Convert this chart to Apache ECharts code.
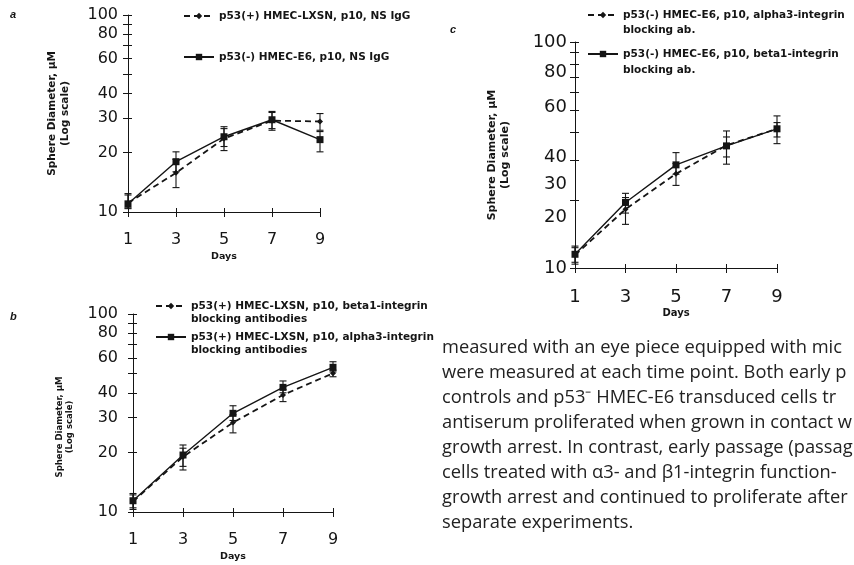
<!DOCTYPE html>
<html>
<head>
<meta charset="utf-8">
<title>Sphere diameter growth curves</title>
<script src="https://cdn.jsdelivr.net/npm/echarts@6/dist/echarts.min.js"></script>
<style>
  html, body { margin: 0; padding: 0; background: #fff; }
  #chart { width: 854px; height: 565px; }
</style>
</head>
<body>
<div id="chart"></div>
<script>
// Shared axes
const days = [1, 3, 5, 7, 9];
const dayTicks = [1, 3, 5, 7, 9];
const diamTicks = [10, 20, 30, 40, 50, 60, 70, 80, 90, 100];
const diamLabels = [10, 20, 30, 40, 60, 80, 100];
// Panel c prints its labels at these heights
const cLabelAt = [10, 16.7, 23.4, 30.8, 51.4, 73.6, 100];
const cLabelText = ['10', '20', '30', '40', '60', '80', '100'];

// Panel a: NS IgG controls
const aNameDashed = 'p53(+) HMEC-LXSN, p10, NS IgG';
const aNameSolid = 'p53(-) HMEC-E6, p10, NS IgG';
const aDashed = [11.1, 15.8, 23.6, 29.1, 28.8];
const aDashedLow = [10.5, 13.3, 20.5, 26.0, 26.0];
const aDashedHigh = [12.4, 18.5, 26.5, 32.0, 31.6];
const aSolid = [11.0, 18.0, 24.1, 29.4, 23.3];
const aSolidLow = [10.4, 16.0, 21.5, 26.5, 20.2];
const aSolidHigh = [12.2, 20.2, 27.1, 32.4, 25.6];

// Panel b: p53(+) cells with integrin blocking antibodies
const bNameDashed = 'p53(+) HMEC-LXSN, p10, beta1-integrin\nblocking antibodies';
const bNameSolid = 'p53(+) HMEC-LXSN, p10, alpha3-integrin\nblocking antibodies';
const bDashed = [11.3, 19.0, 28.3, 39.0, 50.2];
const bDashedLow = [10.3, 16.3, 25.1, 36.1, 48.2];
const bDashedHigh = [12.4, 21.0, 31.0, 41.5, 52.0];
const bSolid = [11.4, 19.4, 31.5, 42.6, 53.8];
const bSolidLow = [10.5, 17.0, 29.0, 40.0, 51.0];
const bSolidHigh = [12.2, 21.8, 34.4, 45.9, 57.4];

// Panel c: p53(-) cells with integrin blocking antibodies
const cNameDashed = 'p53(-) HMEC-E6, p10, alpha3-integrin\nblocking ab.';
const cNameSolid = 'p53(-) HMEC-E6, p10, beta1-integrin\nblocking ab.';
const cDashed = [11.4, 18.2, 26.1, 34.9, 41.3];
const cDashedLow = [10.4, 15.6, 23.2, 28.8, 35.5];
const cDashedHigh = [12.5, 20.5, 29.0, 38.0, 44.0];
const cSolid = [11.5, 19.5, 28.6, 34.7, 41.3];
const cSolidLow = [10.6, 17.5, 26.0, 31.0, 38.0];
const cSolidHigh = [12.3, 21.4, 32.4, 40.4, 47.1];

const paragraph = [
  'measured with an eye piece equipped with mic',
  'were measured at each time point. Both early p',
  'controls and p53\u207B HMEC-E6 transduced cells tr',
  'antiserum proliferated when grown in contact w',
  'growth arrest. In contrast, early passage (passag',
  'cells treated with \u03B13- and \u03B21-integrin function-',
  'growth arrest and continued to proliferate after',
  'separate experiments.'
];

const INK = '#151515';
const axisFont = 'DejaVu Sans';
const boldFont = 'DejaVu Sans';

const grids = [
  { left: 128, top: 15, width: 192, height: 197 },
  { left: 133, top: 314, width: 200, height: 198 },
  { left: 575, top: 42, width: 202, height: 226 }
];
const nameGaps = [56, 58, 63];
const nameSizes = [10.5, 8.5, 11];
const nameShift = [0, 28, 0];
const labelMargins = [10, 15, 8];
const labelSizes = [16, 16, 18];

const xAxes = [];
const yAxes = [];
grids.forEach(function (g, i) {
  // outer ticks, line and labels
  xAxes.push({
    gridIndex: i, type: 'value', min: 1, max: 9,
    name: 'Days', nameLocation: 'middle', nameGap: 40,
    nameTextStyle: { fontFamily: boldFont, fontWeight: 'bold', fontSize: i === 2 ? 10 : 9.5, color: INK },
    axisLine: { onZero: false, lineStyle: { color: INK, width: 1 } },
    axisTick: { customValues: dayTicks, length: 5, lineStyle: { color: INK } },
    axisLabel: { customValues: dayTicks, margin: 20, fontFamily: axisFont, fontSize: labelSizes[i], color: INK },
    splitLine: { show: false }
  });
  // inner half of the crossing ticks
  xAxes.push({
    gridIndex: i, type: 'value', min: 1, max: 9, position: 'bottom',
    axisLine: { show: false, onZero: false },
    axisTick: { customValues: dayTicks, inside: true, length: 4, lineStyle: { color: INK } },
    axisLabel: { show: false },
    splitLine: { show: false }
  });
  yAxes.push({
    gridIndex: i, type: 'log', logBase: 10, min: 10, max: 100,
    name: 'Sphere Diameter, \u00B5M\n(Log scale)', nameLocation: 'middle', nameGap: nameGaps[i],
    nameTextStyle: {
      fontFamily: boldFont, fontWeight: 'bold', fontSize: nameSizes[i],
      lineHeight: Math.round(nameSizes[i] * 1.2), color: INK,
      padding: [0, nameShift[i], 0, 0]
    },
    axisLine: { lineStyle: { color: INK, width: 1 } },
    axisTick: { customValues: diamTicks, length: 5, lineStyle: { color: INK } },
    axisLabel: {
      customValues: i === 2 ? cLabelAt : diamLabels,
      margin: labelMargins[i], fontFamily: axisFont, fontSize: labelSizes[i], color: INK,
      formatter: function (v) {
        if (i !== 2) return String(Math.round(v));
        let best = 0;
        for (let k = 1; k < cLabelAt.length; k++) {
          if (Math.abs(cLabelAt[k] - v) < Math.abs(cLabelAt[best] - v)) best = k;
        }
        return cLabelText[best];
      }
    },
    splitLine: { show: false },
    minorSplitLine: { show: false }
  });
  yAxes.push({
    gridIndex: i, type: 'log', logBase: 10, min: 10, max: 100, position: 'left',
    axisLine: { show: false },
    axisTick: { customValues: diamTicks, inside: true, length: 4, lineStyle: { color: INK } },
    axisLabel: { show: false },
    splitLine: { show: false }
  });
});

function lineSeries(name, values, panel, dashed) {
  return {
    name: name, type: 'line', xAxisIndex: panel * 2, yAxisIndex: panel * 2,
    data: days.map(function (d, k) { return [d, values[k]]; }),
    symbol: dashed ? 'diamond' : 'rect',
    symbolSize: dashed ? 6 : 7,
    itemStyle: { color: INK },
    lineStyle: { color: INK, width: dashed ? 1.8 : 1.4, type: dashed ? [6, 4] : 'solid' },
    z: dashed ? 3 : 4,
    animation: false
  };
}

function errorSeries(panel, lows, highs) {
  return {
    type: 'custom', xAxisIndex: panel * 2, yAxisIndex: panel * 2,
    data: days.map(function (d, k) { return [d, lows[k], highs[k]]; }),
    encode: { x: 0, y: [1, 2] },
    clip: false, silent: true, animation: false, z: 2,
    renderItem: function (params, api) {
      const lo = api.coord([api.value(0), api.value(1)]);
      const hi = api.coord([api.value(0), api.value(2)]);
      const w = 3.5;
      const st = { stroke: INK, lineWidth: 1.1 };
      return {
        type: 'group',
        children: [
          { type: 'line', shape: { x1: lo[0], y1: lo[1], x2: hi[0], y2: hi[1] }, style: st },
          { type: 'line', shape: { x1: lo[0] - w, y1: lo[1], x2: lo[0] + w, y2: lo[1] }, style: st },
          { type: 'line', shape: { x1: hi[0] - w, y1: hi[1], x2: hi[0] + w, y2: hi[1] }, style: st }
        ]
      };
    }
  };
}

// Two-line entries get a leading blank line so the key sits beside the first line.
function legendItem(name, left, top, size, lh) {
  return {
    data: [name], left: left, top: top, padding: 0,
    itemWidth: 30, itemHeight: 8, itemGap: 0, selectedMode: false,
    formatter: function (n) { return n.indexOf('\n') >= 0 ? '\n' + n : n; },
    textStyle: { fontFamily: boldFont, fontWeight: 'bold', fontSize: size, lineHeight: lh, color: INK }
  };
}

const option = {
  backgroundColor: '#ffffff',
  animation: false,
  grid: grids,
  xAxis: xAxes,
  yAxis: yAxes,
  legend: [
    legendItem(aNameDashed, 183, 10, 10.5, 12),
    legendItem(aNameSolid, 183, 51, 10.5, 12),
    legendItem(bNameDashed, 155, 286.5, 10.5, 13),
    legendItem(bNameSolid, 155, 317.5, 10.5, 13),
    legendItem(cNameDashed, 587, -7.5, 10.5, 15),
    legendItem(cNameSolid, 587, 30, 10.5, 16)
  ],
  series: [
    errorSeries(0, aDashedLow, aDashedHigh),
    errorSeries(0, aSolidLow, aSolidHigh),
    lineSeries(aNameDashed, aDashed, 0, true),
    lineSeries(aNameSolid, aSolid, 0, false),
    errorSeries(1, bDashedLow, bDashedHigh),
    errorSeries(1, bSolidLow, bSolidHigh),
    lineSeries(bNameDashed, bDashed, 1, true),
    lineSeries(bNameSolid, bSolid, 1, false),
    errorSeries(2, cDashedLow, cDashedHigh),
    errorSeries(2, cSolidLow, cSolidHigh),
    lineSeries(cNameDashed, cDashed, 2, true),
    lineSeries(cNameSolid, cSolid, 2, false)
  ],
  graphic: [
    { type: 'text', left: 10, top: 9, style: { text: 'a', font: 'italic bold 11px Liberation Sans', fill: INK } },
    { type: 'text', left: 10, top: 311, style: { text: 'b', font: 'italic bold 11px Liberation Sans', fill: INK } },
    { type: 'text', left: 450, top: 24, style: { text: 'c', font: 'italic bold 11px Liberation Sans', fill: INK } },
    {
      type: 'text', x: 442, y: 335,
      style: { text: paragraph.join('\n'), font: '18.3px "Open Sans"', lineHeight: 25, fill: '#222', verticalAlign: 'top' }
    }
  ]
};

const chart = echarts.init(document.getElementById('chart'), null, { renderer: 'canvas' });
chart.setOption(option);
</script>
</body>
</html>
